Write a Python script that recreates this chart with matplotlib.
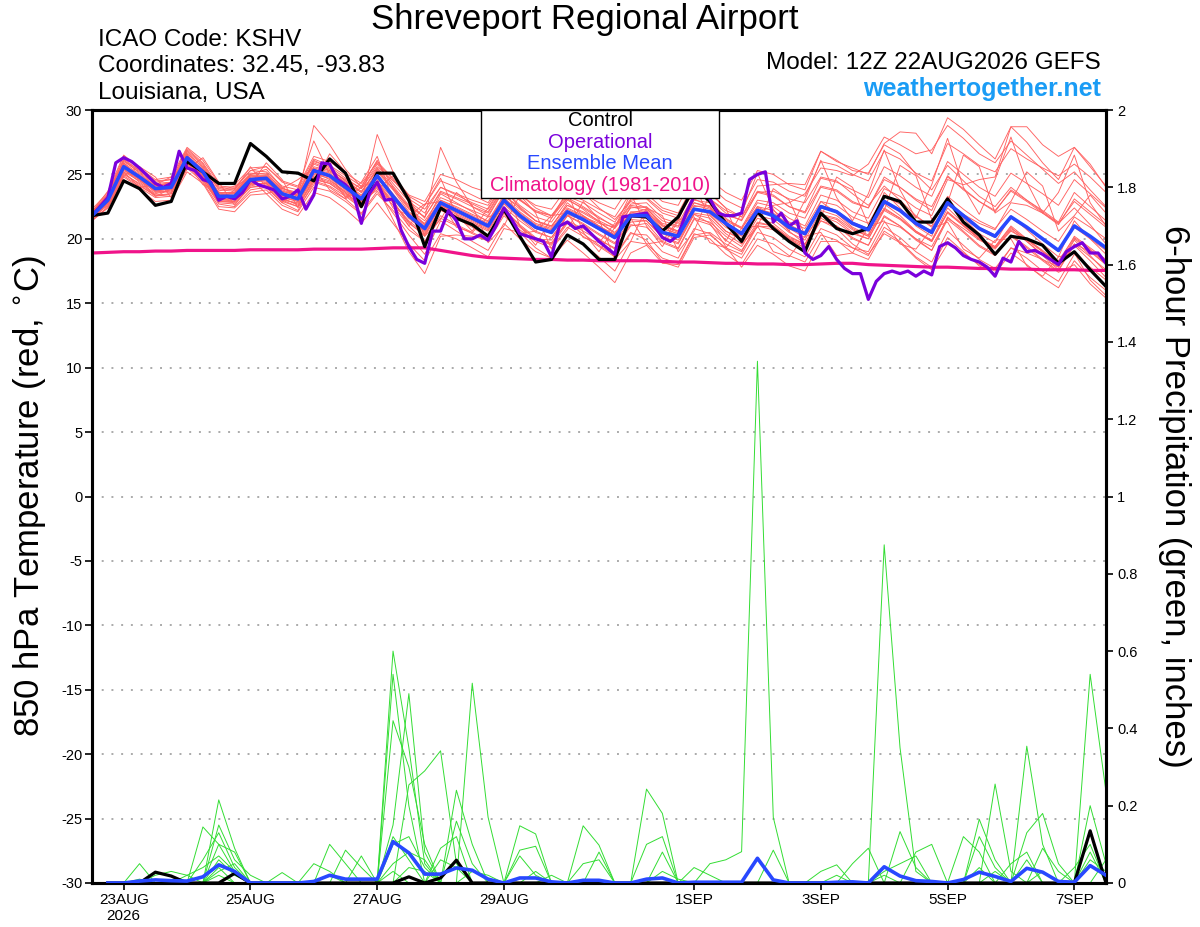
import matplotlib
matplotlib.use('Agg')
import matplotlib.pyplot as plt
from matplotlib.patches import Rectangle
from datetime import datetime, timedelta

plt.rcParams['font.family'] = ['Liberation Sans', 'DejaVu Sans']

# ---------------- DATA ----------------
start = datetime(2026, 8, 22, 12)
times6 = [start + timedelta(hours=6 * i) for i in range(65)]
times3 = [start + timedelta(hours=3 * j) for j in range(129)]
ptimes = times6[1:]

tick_dates = [datetime(2026, 8, 23), datetime(2026, 8, 25), datetime(2026, 8, 27),
              datetime(2026, 8, 29), datetime(2026, 9, 1), datetime(2026, 9, 3),
              datetime(2026, 9, 5), datetime(2026, 9, 7)]
tick_labels = ['23AUG\n2026', '25AUG', '27AUG', '29AUG', '1SEP', '3SEP', '5SEP', '7SEP']

temp_ticks = [-30, -25, -20, -15, -10, -5, 0, 5, 10, 15, 20, 25, 30]
precip_ticks = [0, 0.2, 0.4, 0.6, 0.8, 1.0, 1.2, 1.4, 1.6, 1.8, 2.0]

control_temp = [21.8, 22.0, 24.5, 23.9, 22.6, 22.9, 26.0, 25.2, 24.3, 24.3,
                27.4, 26.4, 25.2, 25.1, 24.5, 26.2, 25.1, 22.5, 25.1, 25.1,
                23.0, 19.4, 22.4, 21.6, 21.1, 20.2, 22.3, 20.2, 18.2, 18.4,
                20.3, 19.6, 18.4, 18.4, 21.8, 21.7, 20.6, 21.7, 24.0, 22.9,
                21.2, 19.8, 22.1, 20.8, 19.8, 19.0, 22.0, 20.8, 20.4, 20.8,
                23.3, 22.9, 21.3, 21.3, 23.1, 21.3, 20.3, 18.8, 20.2, 20.0,
                19.5, 18.1, 19.0, 17.6, 16.3]

mean_temp = [21.8, 23.0, 25.6, 24.8, 23.9, 24.0, 26.3, 25.2, 23.3, 23.3,
             24.6, 24.7, 23.5, 23.1, 25.3, 24.9, 24.0, 23.1, 24.9, 23.3,
             21.8, 20.8, 22.8, 22.2, 21.6, 21.0, 23.0, 21.8, 20.9, 20.5,
             22.1, 21.5, 20.8, 20.1, 21.8, 21.8, 20.5, 20.2, 22.3, 22.1,
             21.2, 20.4, 22.2, 21.8, 20.9, 20.4, 22.5, 22.1, 21.2, 20.7,
             22.9, 22.2, 21.2, 20.5, 22.8, 21.8, 20.8, 20.2, 21.7, 20.9,
             20.0, 19.1, 21.0, 20.2, 19.3]

oper_temp = [21.8, 22.5, 23.2, 25.9, 26.3, 26.0, 25.5, 24.9, 24.3, 24.0,
             24.3, 26.8, 25.5, 25.3, 24.6, 24.4, 23.0, 23.3, 23.1, 23.6,
             24.6, 24.2, 24.0, 23.8, 23.1, 23.3, 23.8, 22.3, 23.4, 25.9,
             25.8, 24.6, 24.2, 23.5, 21.2, 23.5, 24.4, 23.0, 23.1, 20.7,
             19.4, 18.4, 18.1, 20.6, 20.6, 22.2, 21.4, 20.0, 20.0, 20.3,
             19.9, 21.0, 22.4, 21.5, 20.4, 20.2, 20.0, 19.8, 18.6, 21.0,
             21.3, 20.8, 21.0, 20.4, 19.8, 19.3, 18.8, 21.7, 21.8, 21.9,
             22.0, 21.0, 20.1, 19.8, 20.3, 22.0, 23.3, 24.0, 23.1, 22.0,
             21.8, 21.8, 22.0, 24.6, 25.0, 25.2, 21.3, 22.0, 21.0, 21.4,
             18.9, 18.4, 18.7, 19.4, 18.4, 17.7, 17.3, 17.3, 15.3, 16.7,
             17.3, 17.5, 17.3, 17.5, 17.1, 17.5, 17.2, 19.4, 19.7, 19.3,
             18.7, 18.4, 18.2, 17.8, 17.1, 18.5, 18.2, 19.8, 19.0, 19.1,
             18.8, 18.4, 18.0, 19.0, 19.4, 19.7, 18.9, 18.9, 18.1]

clim_temp = [18.9, 18.95, 19.0, 19.0, 19.05, 19.05, 19.1, 19.1, 19.1, 19.1,
             19.15, 19.15, 19.15, 19.15, 19.2, 19.2, 19.2, 19.2, 19.25, 19.3,
             19.3, 19.3, 19.1, 18.9, 18.7, 18.55, 18.5, 18.45, 18.4, 18.4,
             18.35, 18.35, 18.3, 18.3, 18.3, 18.3, 18.25, 18.2, 18.2, 18.15,
             18.1, 18.1, 18.05, 18.05, 18.0, 18.0, 18.05, 18.1, 18.1, 18.0,
             17.95, 17.9, 17.85, 17.8, 17.8, 17.75, 17.7, 17.7, 17.65, 17.65,
             17.6, 17.6, 17.6, 17.55, 17.55]

member_temps = [
    [22.0, 23.4, 26.2, 25.3, 24.4, 24.6, 26.9, 25.8, 24.0, 23.9, 25.3, 25.2, 24.1, 23.8, 26.0, 25.6, 24.7, 23.9, 25.8, 24.3,
     22.9, 22.0, 24.0, 23.5, 23.0, 22.6, 24.6, 23.4, 22.6, 22.3, 24.0, 23.5, 22.8, 22.3, 24.2, 24.0, 22.9, 22.6, 25.0, 24.6,
     23.6, 23.0, 25.3, 25.0, 24.2, 23.8, 26.8, 26.0, 25.5, 25.0, 27.4, 28.3, 28.2, 26.6, 29.4, 28.5, 27.3, 26.2, 28.7, 28.7,
     27.3, 26.4, 27.1, 25.6, 24.1],
    [21.6, 22.6, 25.0, 24.3, 23.4, 23.3, 25.6, 24.6, 22.7, 22.5, 23.8, 24.0, 22.8, 22.2, 24.4, 24.0, 23.1, 22.0, 23.7, 22.0,
     20.3, 18.8, 21.4, 20.6, 19.8, 19.1, 21.2, 20.0, 19.0, 18.5, 20.3, 19.6, 18.6, 17.5, 19.8, 19.6, 18.5, 18.1, 20.4, 20.0,
     18.8, 18.0, 20.0, 19.6, 18.7, 18.2, 20.3, 19.9, 18.9, 18.4, 20.6, 19.8, 18.6, 17.8, 20.1, 19.0, 17.9, 17.3, 18.9, 18.0,
     17.0, 16.2, 18.3, 17.0, 16.0],
    [22.2, 23.1, 25.9, 25.0, 24.1, 24.4, 26.7, 25.5, 23.5, 23.6, 25.0, 25.4, 24.0, 23.3, 28.8, 27.3, 25.4, 24.0, 26.1, 24.0,
     22.4, 21.1, 23.5, 22.8, 22.1, 21.3, 23.3, 22.5, 21.4, 21.0, 22.6, 22.0, 21.3, 20.5, 22.0, 22.3, 21.2, 20.9, 23.0, 22.8,
     21.5, 20.9, 23.0, 22.8, 22.0, 21.6, 24.0, 23.7, 22.8, 22.4, 24.8, 24.0, 23.0, 22.2, 24.9, 23.8, 22.9, 22.1, 23.8, 23.0,
     22.2, 21.3, 23.6, 22.5, 21.4],
    [21.5, 22.8, 25.4, 24.4, 23.5, 23.8, 26.0, 24.9, 22.9, 22.9, 24.2, 24.3, 23.0, 22.8, 25.0, 24.7, 23.8, 22.8, 28.1, 25.2,
     22.9, 21.6, 27.1, 24.4, 22.5, 21.8, 23.9, 22.4, 21.4, 20.9, 22.8, 21.8, 21.0, 20.2, 22.5, 22.2, 20.8, 20.4, 23.1, 22.5,
     21.1, 20.3, 22.4, 21.7, 20.8, 20.1, 22.9, 22.0, 20.9, 20.3, 23.6, 22.4, 21.0, 20.2, 23.2, 21.6, 20.4, 19.7, 21.8, 20.7,
     19.6, 18.6, 21.4, 20.0, 18.8],
    [21.9, 23.2, 25.8, 24.9, 23.7, 23.9, 26.2, 25.0, 23.0, 23.1, 24.4, 24.5, 23.2, 22.9, 24.8, 24.4, 23.6, 22.5, 24.0, 21.5,
     19.0, 17.3, 20.2, 20.3, 20.2, 19.9, 22.3, 21.0, 20.0, 19.6, 21.4, 20.8, 20.0, 19.2, 21.0, 21.2, 19.8, 19.3, 21.6, 21.3,
     20.2, 19.4, 21.3, 21.0, 20.0, 19.3, 21.6, 21.0, 20.1, 19.5, 21.8, 21.0, 20.0, 19.1, 21.5, 20.5, 19.4, 18.7, 20.2, 19.3,
     18.3, 17.4, 18.0, 16.5, 15.4],
    [21.7, 22.9, 25.3, 24.6, 23.9, 24.1, 26.5, 25.4, 23.6, 23.5, 24.9, 24.9, 23.8, 23.4, 26.1, 25.5, 24.5, 23.7, 25.3, 23.9,
     22.3, 21.4, 23.2, 22.7, 22.2, 21.7, 23.8, 22.6, 21.7, 21.3, 23.0, 22.4, 21.6, 21.0, 22.7, 22.8, 21.6, 21.2, 23.4, 23.1,
     22.0, 21.4, 23.6, 23.3, 22.5, 22.1, 24.7, 24.4, 23.8, 23.2, 25.6, 24.9, 24.0, 23.3, 26.0, 25.0, 24.0, 23.3, 25.1, 24.3,
     23.5, 22.6, 24.6, 23.5, 22.4],
    [21.9, 22.7, 25.1, 24.2, 23.3, 23.5, 25.8, 24.8, 22.8, 22.7, 24.0, 24.1, 22.9, 22.5, 24.5, 24.1, 23.3, 22.4, 24.1, 22.6,
     21.0, 19.8, 21.8, 21.1, 20.5, 19.9, 22.0, 20.9, 20.0, 19.7, 21.3, 20.6, 19.9, 19.3, 21.1, 20.9, 19.7, 19.2, 21.5, 21.1,
     19.9, 19.1, 21.0, 20.7, 19.9, 19.3, 21.4, 21.0, 20.0, 19.5, 21.7, 21.0, 19.9, 19.1, 21.7, 20.6, 19.5, 18.8, 20.3, 19.4,
     18.4, 17.5, 19.6, 18.6, 17.6],
    [22.1, 23.5, 26.4, 25.4, 24.5, 24.6, 27.0, 25.9, 24.1, 24.0, 25.3, 25.6, 24.5, 24.1, 26.4, 26.0, 25.1, 24.3, 25.9, 24.6,
     23.1, 22.3, 24.0, 23.4, 22.8, 22.3, 24.2, 23.1, 22.1, 21.6, 23.2, 22.5, 21.7, 20.9, 22.6, 22.4, 21.1, 20.6, 22.8, 22.4,
     21.2, 20.5, 22.3, 22.0, 21.1, 20.5, 22.6, 22.2, 21.3, 20.8, 23.0, 22.3, 21.3, 20.6, 22.9, 21.9, 20.9, 20.3, 21.7, 20.9,
     20.0, 19.1, 21.0, 20.2, 19.2],
    [21.4, 22.5, 24.8, 24.0, 23.2, 23.3, 25.5, 24.4, 22.5, 22.4, 23.6, 23.8, 22.6, 22.1, 24.0, 23.7, 22.9, 21.9, 23.5, 22.2,
     20.7, 19.8, 21.6, 21.0, 20.4, 19.8, 21.8, 20.7, 19.8, 19.3, 20.9, 20.2, 19.4, 18.6, 20.4, 20.3, 19.0, 18.5, 20.8, 20.4,
     19.2, 18.5, 20.5, 20.1, 19.2, 18.6, 20.8, 20.3, 19.3, 18.7, 20.9, 20.1, 19.0, 18.2, 20.6, 19.5, 18.4, 17.7, 19.3, 18.5,
     17.5, 16.7, 18.8, 17.8, 16.8],
    [22.0, 23.0, 25.7, 24.9, 24.0, 24.2, 26.4, 25.3, 23.4, 23.5, 24.8, 24.9, 23.7, 23.3, 25.5, 25.2, 24.4, 23.6, 25.4, 23.9,
     22.5, 21.7, 23.7, 23.2, 22.7, 22.1, 24.1, 23.0, 22.2, 21.8, 23.5, 23.0, 22.3, 21.7, 23.6, 23.5, 22.4, 22.0, 24.3, 24.1,
     23.0, 22.4, 24.6, 24.4, 23.7, 23.3, 26.0, 25.7, 25.0, 24.5, 26.8, 26.2, 25.1, 24.5, 27.4, 26.6, 25.7, 25.2, 27.0, 26.2,
     25.5, 24.9, 25.8, 24.8, 23.6],
    [21.6, 22.8, 25.5, 24.7, 23.8, 23.8, 26.1, 25.0, 23.2, 23.1, 24.5, 24.5, 23.3, 22.9, 25.1, 24.8, 23.9, 23.0, 24.7, 23.3,
     21.7, 20.5, 22.5, 21.9, 21.3, 20.7, 22.7, 21.6, 20.6, 20.1, 21.8, 21.1, 20.3, 19.6, 21.3, 21.4, 20.1, 19.6, 21.9, 21.6,
     20.4, 19.6, 21.6, 21.2, 20.2, 19.6, 21.8, 21.5, 20.5, 20.0, 22.2, 21.5, 20.5, 19.8, 22.1, 21.1, 20.0, 19.3, 20.8, 20.0,
     19.1, 18.1, 20.2, 19.3, 18.4],
    [21.8, 23.1, 25.6, 24.8, 24.0, 24.1, 26.2, 25.1, 23.3, 23.2, 24.6, 24.6, 23.4, 23.0, 25.2, 24.6, 23.6, 22.6, 24.4, 22.9,
     21.2, 20.3, 22.3, 21.6, 20.9, 20.1, 22.0, 20.5, 19.3, 18.5, 19.9, 18.9, 17.8, 16.6, 18.9, 19.5, 18.1, 18.0, 20.3, 20.5,
     19.6, 19.0, 21.2, 21.0, 20.1, 19.6, 21.8, 21.3, 20.4, 20.0, 22.3, 21.6, 20.5, 19.8, 22.0, 21.0, 20.0, 19.2, 20.7, 19.8,
     18.8, 17.8, 19.9, 18.7, 17.4],
    [22.3, 23.6, 26.0, 25.2, 24.2, 24.3, 26.6, 25.6, 23.8, 23.7, 25.0, 25.1, 23.9, 23.5, 25.8, 25.3, 24.3, 23.4, 25.2, 23.8,
     22.1, 21.2, 23.0, 22.4, 21.8, 21.2, 23.2, 22.1, 21.2, 20.8, 22.4, 21.8, 21.0, 20.3, 22.0, 22.0, 20.8, 20.4, 22.6, 22.3,
     21.2, 20.5, 22.5, 22.2, 21.3, 20.8, 22.9, 22.6, 21.7, 21.2, 23.3, 22.7, 21.7, 21.0, 23.3, 22.3, 21.4, 20.8, 22.3, 21.5,
     20.6, 19.8, 21.7, 20.9, 20.0],
    [21.7, 22.9, 25.6, 24.6, 23.6, 23.7, 26.0, 24.9, 23.0, 23.0, 24.3, 24.3, 23.1, 22.7, 24.9, 24.5, 23.7, 22.8, 24.5, 23.1,
     21.6, 20.6, 22.6, 22.0, 21.4, 20.8, 22.8, 21.7, 20.8, 20.4, 22.0, 21.4, 20.7, 20.0, 21.7, 21.6, 20.4, 19.9, 21.9, 21.2,
     19.4, 17.8, 19.5, 18.8, 17.9, 17.5, 19.8, 19.8, 19.3, 19.0, 21.3, 20.9, 20.0, 19.4, 21.6, 20.8, 19.9, 19.3, 20.6, 19.9,
     19.0, 18.3, 20.1, 19.2, 18.1],
    [21.9, 23.3, 26.1, 25.1, 24.1, 24.0, 26.4, 25.2, 23.4, 23.4, 24.8, 24.8, 23.6, 23.2, 25.4, 25.1, 24.2, 23.3, 25.0, 23.5,
     22.0, 21.1, 23.0, 22.5, 21.9, 21.4, 23.4, 22.3, 21.4, 21.0, 22.6, 22.1, 21.4, 20.8, 22.4, 22.5, 21.4, 21.0, 23.2, 23.1,
     22.2, 21.7, 24.1, 24.2, 24.3, 24.2, 26.8, 26.1, 25.3, 25.1, 27.3, 26.6, 25.0, 23.8, 25.7, 24.5, 23.3, 22.5, 24.0, 23.0,
     22.1, 21.2, 22.9, 21.9, 20.9],
    [21.6, 22.7, 25.2, 24.5, 23.7, 23.6, 25.9, 24.8, 23.1, 22.9, 24.1, 24.4, 23.2, 22.6, 24.7, 24.3, 23.4, 22.5, 24.3, 22.8,
     21.4, 20.4, 22.3, 21.8, 21.2, 20.6, 22.5, 21.4, 20.5, 20.1, 21.8, 21.2, 20.4, 19.7, 21.5, 21.4, 20.2, 19.7, 22.0, 21.8,
     20.6, 19.9, 21.8, 21.5, 20.5, 19.9, 22.2, 21.8, 20.8, 20.2, 22.7, 21.8, 20.6, 19.9, 22.4, 21.2, 20.1, 19.4, 21.0, 20.0,
     19.0, 18.0, 20.0, 19.1, 18.0],
    [22.0, 23.2, 25.7, 24.8, 23.8, 24.0, 26.3, 25.3, 23.5, 23.3, 24.7, 24.8, 23.6, 23.1, 25.3, 24.9, 24.1, 23.2, 24.9, 23.4,
     21.9, 21.0, 22.8, 22.3, 21.7, 21.1, 23.1, 22.0, 21.1, 20.7, 22.3, 21.7, 21.0, 20.3, 22.1, 22.1, 21.0, 20.6, 22.8, 22.5,
     21.4, 20.8, 22.8, 22.5, 21.6, 21.0, 23.4, 23.0, 22.1, 21.6, 23.9, 23.3, 22.4, 21.8, 24.6, 24.2, 24.6, 24.8, 28.7, 27.5,
     25.9, 24.6, 27.1, 25.8, 24.0],
    [21.8, 22.9, 25.4, 24.6, 23.7, 23.9, 26.1, 25.1, 23.2, 23.2, 24.5, 24.6, 23.4, 23.0, 25.3, 24.8, 23.9, 22.9, 24.8, 23.2,
     21.6, 20.7, 22.6, 22.1, 21.5, 20.9, 22.9, 21.8, 20.9, 20.5, 22.1, 21.5, 20.8, 20.1, 21.8, 21.8, 20.6, 20.2, 22.3, 22.0,
     20.9, 20.2, 22.2, 21.8, 20.9, 20.4, 22.5, 22.1, 21.1, 20.6, 22.8, 22.1, 21.1, 20.4, 22.7, 21.7, 20.7, 20.1, 21.6, 20.8,
     19.9, 19.0, 20.9, 20.0, 19.1],
    [21.5, 22.4, 24.9, 24.1, 23.4, 23.5, 25.7, 24.7, 22.9, 22.8, 24.0, 24.2, 23.0, 22.5, 24.6, 24.3, 23.5, 22.6, 24.2, 22.8,
     21.3, 20.2, 22.2, 21.7, 21.0, 20.3, 22.3, 21.1, 20.1, 19.5, 21.2, 20.4, 19.5, 18.7, 20.5, 19.9, 18.2, 17.8, 20.1, 20.3,
     19.3, 18.8, 21.0, 20.9, 20.0, 19.5, 21.9, 21.6, 20.7, 20.2, 22.4, 21.6, 20.6, 19.8, 22.1, 21.0, 20.0, 19.4, 20.9, 19.8,
     18.7, 17.6, 19.5, 18.3, 17.0],
    [22.1, 23.4, 26.1, 25.3, 24.3, 24.4, 26.8, 25.7, 23.9, 23.8, 25.1, 25.0, 23.9, 23.6, 25.9, 25.4, 24.5, 23.6, 25.5, 24.1,
     22.6, 21.7, 23.6, 23.1, 22.5, 22.0, 24.0, 23.0, 22.1, 21.8, 23.3, 22.8, 22.0, 21.3, 23.1, 23.1, 22.0, 21.6, 23.8, 23.6,
     22.4, 21.7, 23.7, 23.4, 22.5, 22.0, 24.1, 23.8, 22.9, 22.4, 24.6, 24.0, 23.1, 22.5, 24.8, 23.9, 22.9, 22.2, 23.7, 22.9,
     22.0, 21.1, 23.1, 22.1, 21.1],
    [21.7, 23.0, 25.9, 24.6, 23.3, 23.9, 26.6, 24.5, 22.9, 23.8, 25.6, 24.0, 22.8, 23.9, 27.6, 25.0, 23.2, 24.4, 26.4, 23.0,
     21.0, 22.6, 24.7, 21.9, 20.6, 22.4, 24.4, 21.0, 19.5, 21.6, 23.7, 20.5, 19.0, 20.9, 23.5, 21.0, 19.4, 21.4, 24.3, 21.5,
     19.8, 22.0, 25.1, 22.3, 20.6, 23.0, 26.1, 23.2, 21.4, 23.5, 26.9, 23.8, 21.6, 24.2, 27.8, 24.0, 21.9, 24.6, 27.9, 24.4,
     22.0, 23.6, 26.5, 22.8, 21.0],
    [22.3, 22.5, 24.9, 25.6, 24.8, 23.2, 25.4, 26.3, 24.4, 22.6, 24.2, 25.9, 24.6, 22.4, 24.2, 26.6, 25.2, 22.9, 23.8, 24.9,
     23.4, 20.2, 21.5, 23.6, 22.6, 19.7, 21.0, 23.4, 22.0, 19.2, 20.7, 22.9, 21.5, 18.4, 19.8, 22.4, 21.8, 19.0, 20.6, 23.5,
     22.4, 19.6, 20.9, 23.9, 23.0, 20.3, 21.6, 24.8, 24.0, 21.1, 22.2, 25.7, 24.9, 21.5, 22.8, 26.5, 25.6, 22.0, 22.9, 25.2,
     24.1, 20.6, 21.8, 23.4, 22.0],
    [21.9, 23.3, 25.2, 24.0, 24.2, 24.8, 25.9, 24.2, 23.7, 24.1, 24.7, 23.5, 23.9, 24.6, 25.5, 23.8, 23.1, 24.0, 24.6, 22.4,
     21.8, 22.7, 22.9, 20.9, 20.5, 21.7, 22.1, 20.4, 20.6, 21.8, 22.0, 20.1, 19.7, 21.2, 21.6, 19.6, 19.8, 21.5, 21.7, 19.7,
     19.3, 20.8, 21.0, 19.0, 18.6, 20.2, 20.5, 18.7, 18.9, 20.9, 21.4, 19.6, 19.2, 20.8, 21.3, 19.2, 18.5, 19.9, 20.0, 17.9,
     17.1, 18.6, 18.9, 16.8, 15.6],
    [22.0, 22.9, 25.5, 24.9, 24.1, 24.3, 26.3, 25.4, 23.6, 23.6, 24.9, 24.8, 23.7, 23.4, 25.6, 25.3, 24.6, 23.9, 25.6, 24.5,
     23.4, 22.9, 25.0, 24.6, 24.0, 23.6, 25.2, 24.4, 23.6, 23.1, 24.5, 23.6, 22.4, 21.5, 22.9, 22.4, 21.0, 20.5, 22.4, 21.9,
     20.6, 20.0, 22.0, 22.6, 22.8, 23.5, 25.5, 25.3, 24.9, 25.8, 27.9, 27.3, 26.6, 26.9, 28.8, 27.8, 26.6, 25.9, 27.6, 26.5,
     25.4, 24.3, 25.2, 23.8, 22.5],
    [21.4, 22.4, 24.6, 23.8, 22.9, 23.0, 25.2, 24.3, 22.3, 22.1, 23.4, 23.5, 22.3, 21.8, 23.6, 23.2, 22.3, 21.2, 22.8, 21.2,
     19.6, 18.3, 20.4, 20.0, 19.3, 18.6, 20.8, 20.5, 20.0, 19.9, 21.8, 21.7, 21.2, 20.9, 23.0, 23.2, 22.2, 21.8, 23.6, 23.0,
     21.6, 20.8, 22.5, 21.8, 20.6, 19.6, 21.4, 20.8, 19.6, 18.8, 20.4, 19.7, 18.5, 17.6, 19.6, 18.9, 18.0, 17.5, 19.3, 18.9,
     18.4, 17.8, 19.6, 19.0, 18.0],
    [22.1, 23.7, 26.5, 25.5, 24.6, 24.8, 27.1, 26.1, 24.3, 24.2, 25.5, 25.6, 24.4, 24.0, 26.2, 25.7, 24.9, 24.1, 26.0, 24.7,
     23.3, 22.6, 24.5, 24.0, 23.4, 22.8, 24.7, 23.5, 22.4, 21.8, 23.1, 22.3, 21.3, 20.4, 21.9, 21.7, 20.6, 20.3, 22.5, 22.6,
     21.8, 21.5, 23.6, 23.7, 23.1, 22.8, 24.8, 24.5, 23.5, 22.6, 24.1, 23.0, 21.8, 20.9, 22.6, 21.9, 21.2, 20.7, 22.8, 22.6,
     22.0, 21.2, 22.4, 21.1, 19.6],
]

# 6-hour precipitation (inches), periods ending 22AUG 18Z ... 7SEP 12Z
control_precip = [0, 0, 0, 0.028, 0.018, 0, 0, 0, 0.025, 0,
                  0, 0, 0, 0, 0, 0, 0, 0, 0, 0.016,
                  0, 0.013, 0.059, 0, 0, 0, 0, 0, 0, 0,
                  0, 0, 0, 0, 0, 0, 0, 0, 0, 0,
                  0, 0, 0, 0, 0, 0, 0, 0, 0, 0,
                  0, 0, 0, 0, 0, 0, 0, 0, 0, 0,
                  0, 0, 0.135, 0]

mean_precip = [0, 0, 0.005, 0.008, 0.006, 0.005, 0.016, 0.047, 0.03, 0,
               0, 0, 0, 0.004, 0.02, 0.01, 0.01, 0.01, 0.107, 0.078,
               0.023, 0.023, 0.039, 0.033, 0.01, 0, 0.013, 0.013, 0.003, 0,
               0.007, 0.007, 0, 0, 0.01, 0.013, 0, 0.002, 0.002, 0.002,
               0.002, 0.064, 0.008, 0, 0, 0, 0.002, 0.003, 0, 0.042,
               0.018, 0.006, 0.004, 0, 0.009, 0.028, 0.017, 0.004, 0.038, 0.028,
               0.004, 0.002, 0.045, 0.02]

# members: {period index (1..64): inches}, all other periods dry
member_precip = [
    {3: 0.05, 7: 0.145, 8: 0.10, 9: 0.03, 19: 0.60, 20: 0.35, 21: 0.05, 35: 0.10, 36: 0.12, 63: 0.54, 64: 0.236},
    {8: 0.215, 9: 0.09, 19: 0.54, 20: 0.20, 28: 0.03, 63: 0.20, 64: 0.05},
    {8: 0.15, 9: 0.06, 10: 0.02, 19: 0.42, 20: 0.30, 21: 0.10, 36: 0.08, 62: 0.04, 63: 0.10},
    {7: 0.06, 8: 0.13, 9: 0.04, 19: 0.15, 20: 0.49, 21: 0.08, 39: 0.05, 40: 0.06, 41: 0.081, 42: 1.35, 43: 0.17},
    {8: 0.10, 9: 0.08, 20: 0.254, 21: 0.29, 22: 0.342, 23: 0.05, 43: 0.085, 63: 0.08},
    {6: 0.02, 7: 0.04, 8: 0.07, 9: 0.03, 23: 0.24, 24: 0.10, 38: 0.04, 39: 0.02, 64: 0.06},
    {8: 0.03, 9: 0.05, 24: 0.517, 25: 0.17, 46: 0.03, 47: 0.047},
    {4: 0.02, 5: 0.03, 6: 0.02, 8: 0.04, 23: 0.16, 24: 0.05, 48: 0.05, 49: 0.09},
    {12: 0.027, 19: 0.10, 20: 0.12, 21: 0.04, 50: 0.875, 51: 0.35, 52: 0.03},
    {15: 0.10, 16: 0.05, 19: 0.12, 20: 0.06, 51: 0.133, 52: 0.04},
    {16: 0.085, 17: 0.04, 22: 0.09, 23: 0.12, 52: 0.08, 53: 0.10},
    {14: 0.05, 15: 0.03, 19: 0.05, 20: 0.08, 21: 0.06, 50: 0.03, 51: 0.05, 52: 0.07},
    {17: 0.07, 22: 0.06, 23: 0.04, 55: 0.12, 56: 0.08},
    {27: 0.148, 28: 0.127, 56: 0.165, 57: 0.06},
    {27: 0.085, 28: 0.095, 57: 0.256, 58: 0.03},
    {27: 0.07, 28: 0.02, 59: 0.354, 60: 0.10},
    {31: 0.148, 32: 0.098, 59: 0.13, 60: 0.18, 61: 0.05},
    {31: 0.05, 32: 0.06, 56: 0.12, 57: 0.04, 59: 0.06},
    {32: 0.08, 60: 0.09, 61: 0.03},
    {35: 0.243, 36: 0.18, 58: 0.05, 59: 0.08},
    {3: 0.01, 8: 0.06, 9: 0.02, 20: 0.04, 21: 0.03},
    {24: 0.03, 25: 0.02, 47: 0.02},
    {36: 0.03, 37: 0.01, 56: 0.04},
    {15: 0.02, 29: 0.02, 60: 0.03},
    {8: 0.02, 63: 0.06, 64: 0.03},
    {19: 0.03, 50: 0.02, 57: 0.03},
]

# ---------------- FIGURE ----------------
W, H = 1200, 927
fig = plt.figure(figsize=(W / 100, H / 100), dpi=100)
L, R, T, B = 92, 1106, 110, 883
ax = fig.add_axes([L / W, 1 - B / H, (R - L) / W, (B - T) / H])
ax2 = ax.twinx()

red = '#ff6262'
green = '#33dd33'
purple = '#7a00dc'
blue = '#2848ff'
magenta = '#f0138a'

for m in member_temps:
    ax.plot(times6, m, color=red, lw=0.65, zorder=2)
ax.plot(times6, clim_temp, color=magenta, lw=2.3, zorder=3, solid_capstyle='butt')
ax.plot(times6, control_temp, color='black', lw=2.3, zorder=4)
ax.plot(times3, oper_temp, color=purple, lw=2.3, zorder=5)
ax.plot(times6, mean_temp, color=blue, lw=2.6, zorder=6)

for d in member_precip:
    vals = [d.get(i, 0.0) for i in range(1, 65)]
    ax2.plot(ptimes, vals, color=green, lw=0.7, zorder=2)
ax2.plot(ptimes, control_precip, color='black', lw=2.3, zorder=4)
ax2.plot(ptimes, mean_precip, color=blue, lw=2.6, zorder=5)

ax.set_xlim(times6[0], times6[-1])
ax.set_ylim(-30, 30)
ax2.set_ylim(0, 2)

ax.set_yticks(temp_ticks)
ax.set_yticklabels([str(v) for v in temp_ticks])
ax2.set_yticks(precip_ticks)
ax2.set_yticklabels([f'{v:g}' for v in precip_ticks])
ax.set_xticks(tick_dates)
ax.set_xticklabels(tick_labels)

ax.set_axisbelow(True)
ax.yaxis.grid(True, color='#aaaaaa', linestyle=(0, (1, 4)), linewidth=1.4)
ax.xaxis.grid(False)

ax.tick_params(axis='y', direction='out', length=5, width=1.2, labelsize=10.5, pad=2)
ax.tick_params(axis='x', direction='out', length=5, width=1.2, labelsize=11, pad=2)
ax2.tick_params(axis='y', direction='out', length=5, width=1.2, labelsize=10.5, pad=3)
for lab in ax.get_xticklabels():
    lab.set_linespacing(1.25)

for a in (ax, ax2):
    for s in a.spines.values():
        s.set_linewidth(2.2)
        s.set_color('black')

# legend box
ax2.add_patch(Rectangle((0.3836, 0.886), 0.2347, 0.114, transform=ax2.transAxes,
                        facecolor='white', edgecolor='black', lw=1.0, zorder=10, clip_on=False))
leg_items = [('Control', 'black', 0.9858), ('Operational', purple, 0.9586),
             ('Ensemble Mean', blue, 0.9314), ('Climatology (1981-2010)', magenta, 0.9017)]
for txt, col, yy in leg_items:
    ax2.text(0.501, yy, txt, color=col, fontsize=14.5, ha='center', va='center',
             transform=ax2.transAxes, zorder=11)

# header texts
fig.text(585 / W, 1 - 20 / H, 'Shreveport Regional Airport', fontsize=25, ha='center', va='center')
fig.text(98 / W, 1 - 40 / H, 'ICAO Code: KSHV', fontsize=17.5, ha='left', va='center')
fig.text(98 / W, 1 - 66 / H, 'Coordinates: 32.45, -93.83', fontsize=17.5, ha='left', va='center')
fig.text(98 / W, 1 - 93 / H, 'Louisiana, USA', fontsize=17.5, ha='left', va='center')
fig.text(1101 / W, 1 - 63 / H, 'Model: 12Z 22AUG2026 GEFS', fontsize=17.5, ha='right', va='center')
fig.text(1101 / W, 1 - 89 / H, 'weathertogether.net', fontsize=18, ha='right', va='center',
         color='#1a9cf5', fontweight='bold')

fig.text(30 / W, 1 - 496 / H, '850 hPa Temperature (red, $^{\\circ}$C)', fontsize=25,
         rotation=90, ha='center', va='center')
fig.text(1175 / W, 1 - 496 / H, '6-hour Precipitation (green, inches)', fontsize=25,
         rotation=270, ha='center', va='center')

fig.savefig('out.png', dpi=100)
